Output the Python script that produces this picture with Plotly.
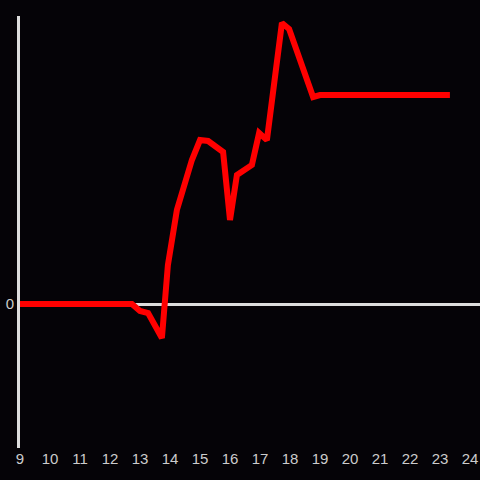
import plotly.graph_objects as go

hours = [9.0, 12.73, 13.0, 13.27, 13.73, 13.93, 14.23, 14.73, 15.0, 15.27, 15.77,
         16.0, 16.23, 16.73, 16.97, 17.23, 17.73, 17.97, 18.77, 19.0, 23.33]
values = [0, 0, -7, -9, -34, 39, 94, 144, 164, 163, 152,
          84, 129, 139, 171, 164, 281, 275, 207, 209, 209]
x_ticks = list(range(9, 25))

fig = go.Figure()
fig.add_trace(go.Scatter(x=hours, y=values, mode="lines",
                         line=dict(color="#ff0000", width=6), hoverinfo="skip"))

fig.update_layout(
    width=480, height=480,
    margin=dict(l=20, r=0, t=16, b=32),
    paper_bgcolor="#050307", plot_bgcolor="#050307",
    showlegend=False,
    font=dict(family="Liberation Sans, Arial, sans-serif", size=15, color="#cccccc"),
    xaxis=dict(range=[9, 24.333], tickvals=x_ticks, ticktext=[str(t) for t in x_ticks],
               showgrid=False, zeroline=False, showline=False, ticks="",
               automargin=False, tickfont=dict(size=15, color="#cccccc")),
    yaxis=dict(range=[-144, 288], tickvals=[0], ticktext=["0"], showgrid=False,
               zeroline=True, zerolinecolor="#dddddd", zerolinewidth=3,
               showline=True, linecolor="#dddddd", linewidth=3, ticks="",
               automargin=False, tickfont=dict(size=15, color="#cccccc")),
)

fig.write_html("out.html", config={"displayModeBar": False},
               post_script="document.body.style.margin='0';document.body.style.background='#050307';")
